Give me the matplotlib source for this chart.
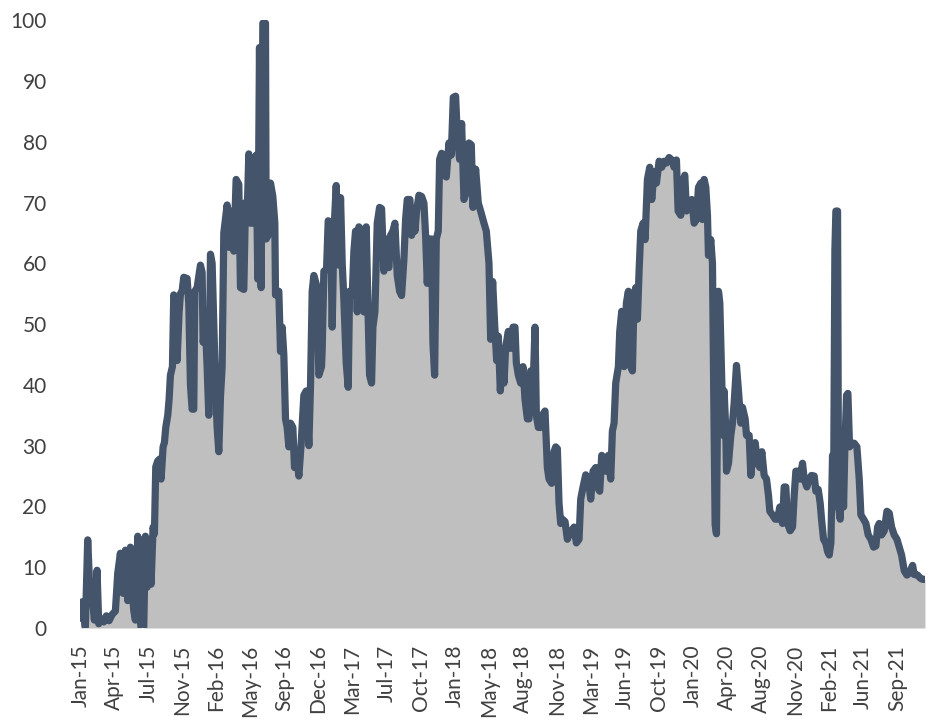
import numpy as np
import pandas as pd
import matplotlib
matplotlib.use("Agg")
import matplotlib.pyplot as plt

# days after 1 Jan 2015
start = pd.Timestamp("2015-01-01")
days = [0, 5, 15, 22, 28, 35, 42, 50, 55, 62, 70, 78, 86, 95, 105, 112, 120, 128, 135, 142,
        150, 155, 160, 165, 172, 178, 182, 190, 195, 200, 205, 212, 218, 222, 226, 232, 238, 242, 248, 252,
        256, 262, 266, 270, 276, 280, 285, 290, 296, 300, 305, 310, 320, 325, 330, 335, 340, 343, 350, 360,
        365, 368, 375, 380, 385, 390, 395, 400, 405, 410, 415, 420, 425, 430, 440, 447, 455, 460, 467, 475,
        480, 490, 495, 500, 505, 510, 517, 523, 527, 532, 537, 542, 547, 555, 557, 563, 570, 577, 583, 585,
        595, 600, 605, 610, 615, 620, 625, 630, 637, 642, 647, 655, 662, 670, 677, 685, 690, 695, 700, 710,
        715, 723, 725, 730, 738, 743, 750, 755, 760, 767, 775, 780, 785, 790, 797, 803, 807, 815, 820, 825,
        830, 835, 845, 850, 857, 863, 867, 873, 877, 883, 890, 897, 903, 910, 915, 920, 925, 930, 937, 943,
        950, 957, 963, 970, 975, 980, 988, 993, 997, 1003, 1008, 1015, 1023, 1030, 1035, 1040, 1045, 1053, 1057, 1062,
        1067, 1073, 1077, 1083, 1090, 1097, 1105, 1112, 1118, 1125, 1130, 1137, 1143, 1150, 1158, 1165, 1172, 1177, 1185, 1193,
        1200, 1210, 1217, 1225, 1230, 1236, 1242, 1248, 1253, 1259, 1265, 1270, 1275, 1283, 1290, 1297, 1303, 1307, 1313, 1320,
        1327, 1333, 1340, 1345, 1350, 1357, 1363, 1367, 1373, 1380, 1385, 1393, 1400, 1405, 1413, 1420, 1425, 1430, 1435, 1440,
        1445, 1453, 1460, 1465, 1473, 1480, 1487, 1495, 1500, 1507, 1515, 1523, 1530, 1537, 1545, 1550, 1557, 1563, 1570, 1575,
        1583, 1590, 1595, 1600, 1605, 1613, 1617, 1623, 1630, 1637, 1643, 1650, 1655, 1660, 1665, 1670, 1675, 1680, 1687, 1693,
        1700, 1707, 1713, 1720, 1727, 1735, 1743, 1750, 1757, 1765, 1773, 1780, 1787, 1792, 1800, 1805, 1812, 1817, 1825, 1833,
        1840, 1847, 1853, 1860, 1865, 1870, 1875, 1880, 1883, 1890, 1895, 1898, 1903, 1907, 1913, 1917, 1923, 1927, 1930, 1935,
        1937, 1943, 1950, 1955, 1960, 1967, 1973, 1980, 1985, 1993, 1997, 2005, 2010, 2017, 2023, 2030, 2037, 2043, 2050, 2057,
        2063, 2067, 2075, 2083, 2090, 2097, 2105, 2110, 2115, 2120, 2128, 2135, 2140, 2145, 2152, 2158, 2165, 2170, 2178, 2185,
        2192, 2200, 2205, 2212, 2218, 2222, 2228, 2235, 2240, 2245, 2250, 2255, 2258, 2262, 2265, 2270, 2273, 2278, 2283, 2288,
        2292, 2297, 2301, 2306, 2312, 2320, 2328, 2335, 2340, 2348, 2355, 2362, 2370, 2378, 2385, 2390, 2395, 2402, 2410, 2418,
        2425, 2432, 2440, 2448, 2455, 2462, 2470, 2478, 2485, 2495, 2500, 2510, 2518, 2525, 2532]
values = [1.6, 4.3, 0.2, 14.5, 6.7, 5.6, 1.3, 9.5, 0.7, 1.5, 1.0, 2.0, 1.2, 2.2, 2.8, 9.0, 12.3, 5.7, 12.8, 4.5,
          13.3, 6.7, 2.9, 1.3, 15.1, 2.0, 0.0, 0.0, 15.1, 6.7, 14.5, 7.2, 16.6, 15.5, 26.5, 27.5, 27.8, 24.5, 29.8, 30.5,
          33.0, 35.0, 37.6, 41.6, 43.0, 54.8, 53.5, 44.0, 52.0, 55.0, 55.4, 57.7, 57.5, 53.5, 40.0, 36.0, 36.0, 55.4, 56.0, 59.7,
          58.5, 47.0, 49.5, 43.0, 35.0, 61.5, 60.0, 50.0, 40.0, 33.0, 29.0, 38.0, 43.0, 65.0, 69.6, 62.6, 68.6, 62.0, 73.8, 73.0,
          56.0, 55.7, 70.0, 68.0, 78.0, 66.6, 66.6, 73.8, 77.8, 57.4, 95.5, 56.0, 99.5, 99.5, 64.0, 64.6, 73.2, 71.0, 66.6, 54.8,
          55.4, 45.5, 49.5, 44.9, 34.4, 33.0, 29.8, 33.7, 33.0, 26.4, 29.0, 25.0, 30.4, 38.3, 39.0, 30.0, 40.0, 55.4, 58.0, 56.0,
          41.6, 43.0, 46.0, 58.7, 59.0, 67.0, 66.6, 49.5, 65.0, 72.8, 59.7, 70.8, 60.0, 54.0, 43.6, 39.6, 55.4, 54.7, 62.0, 65.3,
          52.0, 66.0, 65.3, 52.0, 66.0, 50.8, 41.6, 40.3, 49.5, 52.0, 66.6, 69.2, 69.0, 58.7, 64.0, 60.0, 59.3, 64.6, 65.3, 66.6,
          58.0, 55.4, 54.7, 60.7, 67.2, 70.5, 70.5, 64.6, 68.6, 65.3, 68.6, 71.2, 71.0, 69.9, 64.6, 56.7, 64.0, 64.0, 46.9, 41.6,
          64.0, 65.3, 77.1, 78.1, 74.5, 74.2, 79.8, 77.8, 87.3, 87.5, 81.0, 77.1, 83.0, 70.5, 71.8, 79.8, 79.5, 69.2, 75.5, 69.9,
          68.6, 66.6, 65.3, 60.0, 47.5, 57.0, 50.0, 44.0, 48.0, 39.0, 44.9, 40.3, 46.2, 48.8, 46.0, 49.5, 49.5, 43.6, 41.6, 40.3,
          43.0, 37.6, 34.4, 34.4, 42.3, 39.0, 49.5, 35.0, 33.0, 33.0, 35.0, 35.7, 26.4, 24.5, 23.8, 29.0, 29.8, 29.5, 20.5, 17.2,
          17.9, 17.5, 14.6, 15.3, 16.0, 16.6, 14.0, 14.6, 21.2, 23.2, 25.2, 24.5, 21.2, 25.8, 26.4, 23.2, 22.5, 28.4, 27.8, 25.8,
          28.4, 24.5, 32.4, 33.7, 40.3, 43.0, 48.8, 52.1, 43.0, 53.5, 55.4, 43.0, 42.3, 54.7, 56.0, 50.8, 58.7, 65.3, 66.6, 63.9,
          73.8, 75.8, 70.5, 75.1, 73.2, 76.8, 75.8, 76.8, 76.5, 77.4, 77.0, 75.8, 77.0, 68.6, 67.9, 73.2, 74.5, 68.6, 69.2, 70.5,
          66.6, 67.2, 72.5, 73.2, 67.2, 73.8, 72.5, 67.9, 61.3, 63.9, 60.0, 43.0, 17.0, 15.5, 55.4, 53.5, 40.3, 31.7, 39.0, 32.4,
          25.8, 27.1, 31.7, 33.7, 37.0, 43.2, 39.0, 33.7, 36.3, 34.4, 31.7, 31.7, 25.1, 29.8, 30.5, 27.1, 26.4, 29.0, 25.1, 24.5,
          21.8, 19.2, 18.6, 17.9, 17.9, 19.9, 17.2, 23.2, 23.2, 17.2, 16.0, 16.6, 21.8, 25.8, 25.8, 24.5, 27.1, 24.5, 23.2, 24.5,
          25.1, 25.0, 22.5, 22.8, 20.5, 17.9, 14.6, 13.9, 12.6, 12.0, 14.0, 28.4, 20.0, 62.0, 68.6, 68.6, 20.0, 17.9, 30.4, 19.9,
          29.8, 38.3, 38.6, 29.8, 30.4, 30.4, 29.8, 24.5, 18.6, 17.9, 17.2, 15.3, 14.6, 13.3, 13.5, 16.6, 17.2, 15.3, 16.0, 19.2,
          18.9, 16.6, 15.3, 14.6, 13.3, 12.0, 9.4, 8.7, 9.0, 10.3, 8.8, 8.7, 8.2, 8.0, 8.0]

# x labels every 102 days, like the category axis in the original
tick_dates = pd.date_range(start, periods=25, freq="102D")
yticks = list(range(0, 101, 10))

dates = start + pd.to_timedelta(days, unit="D")

plt.rcParams['font.family'] = ['Lato', 'DejaVu Sans']
fig = plt.figure(figsize=(9.35, 7.21), dpi=100)
ax = fig.add_axes([0.0856, 0.129, 0.904, 0.843])

ax.fill_between(dates, values, 0, color='#BFBFBF', linewidth=0)
ax.plot(dates, values, color='#44546A', lw=5.2, solid_joinstyle='round', solid_capstyle='round')

ax.set_ylim(0, 100)
ax.set_xlim(start - pd.Timedelta(days=1), start + pd.Timedelta(days=2533))
ax.set_yticks(yticks)
ax.set_xticks(tick_dates)
ax.set_xticklabels([d.strftime('%b-%y') for d in tick_dates], rotation=90)
for s in ax.spines.values():
    s.set_visible(False)
ax.tick_params(axis='both', length=0, labelsize=15, colors='#404040')
ax.tick_params(axis='y', pad=24)
ax.tick_params(axis='x', pad=12)

fig.savefig('out.png', dpi=100)
